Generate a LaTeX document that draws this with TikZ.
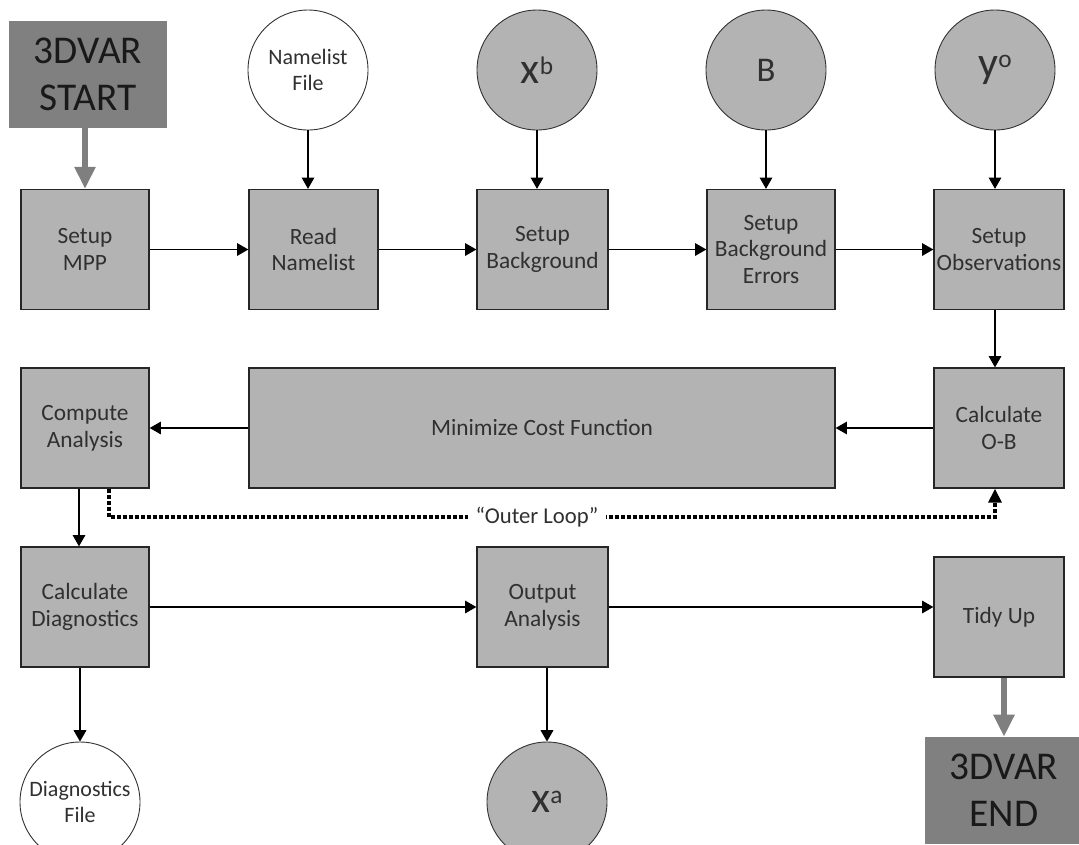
\documentclass[tikz,border=0pt]{standalone}
\usepackage{fontspec}
\setmainfont{Carlito}
\usetikzlibrary{arrows.meta,calc}
\newdimen\pxu \pxu=0.75pt
\definecolor{boxgray}{HTML}{B3B3B3}
\definecolor{darkgray}{HTML}{808080}
\definecolor{txt}{HTML}{303030}
\definecolor{arrgray}{HTML}{7F7F7F}
\newcommand{\supvar}[2]{{\fontsize{33}{36}\selectfont #1}\raisebox{7pt}{\fontsize{19}{20}\selectfont #2}}
\tikzset{
  procbox/.style={draw=black!85, line width=1.3\pxu, fill=boxgray, text=txt, align=center,
    minimum height=120\pxu, inner sep=0pt, font=\fontsize{17.5}{20}\selectfont},
  termbox/.style={fill=darkgray, text=black!90, align=center, minimum width=158\pxu,
    minimum height=107\pxu, inner sep=0pt, font=\fontsize{29.5}{35}\selectfont},
  datacirc/.style={circle, draw=black!80, line width=0.9\pxu, minimum size=120\pxu, inner sep=0pt,
    align=center, text=txt},
  filecirc/.style={datacirc, fill=white, font=\fontsize{16.5}{20}\selectfont},
  varcirc/.style={datacirc, fill=boxgray, font=\fontsize{26}{28}\selectfont},
  arr/.style={draw=black, line width=0.9pt, -{Triangle[width=9.5pt,length=8.5pt]}},
  bigarr/.style={draw=arrgray, line width=4.5pt, -{Triangle[width=15pt,length=16.5pt]}},
  outerloop/.style={draw=black, line width=3pt, dash pattern=on 3pt off 1.5pt,
    -{Triangle[width=9.75pt,length=10.5pt]}},
}
\begin{document}
\begin{tikzpicture}[x=0.75pt,y=-0.75pt]
\useasboundingbox (0,0) rectangle (1079,844);
\clip (0,0) rectangle (1079,844);
% terminals
\node[termbox] (start) at (88,74.5) {3DVAR\\START};
\node[termbox] (end) at (1004,790.5) {3DVAR\\END};
% input circles
\node[filecirc] (nl) at (308,70) {Namelist\\File};
\node[varcirc] (xb) at (537,70) {\supvar{x}{b}};
\node[varcirc] (bb) at (766,70) {B};
\node[varcirc] (yo) at (995,70) {\supvar{y}{o}};
% row 1
\node[procbox, minimum width=128\pxu] (mpp) at (85,249.5) {Setup\\MPP};
\node[procbox, minimum width=129\pxu] (read) at (313.5,249.5) {Read\\Namelist};
\node[procbox, minimum width=131\pxu] (bg) at (542.5,249.5) {Setup\\Background};
\node[procbox, minimum width=128\pxu] (bge) at (771,249.5) {Setup\\Background\\Errors};
\node[procbox, minimum width=130\pxu] (obs) at (999,249.5) {Setup\\Observations};
% row 2
\node[procbox, minimum width=128\pxu] (comp) at (85,428) {Compute\\Analysis};
\node[procbox, minimum width=586\pxu] (minim) at (542,428) {Minimize Cost Function};
\node[procbox, minimum width=130\pxu] (ob) at (999,428) {Calculate\\O-B};
% row 3
\node[procbox, minimum width=128\pxu] (diag) at (85,607) {Calculate\\Diagnostics};
\node[procbox, minimum width=131\pxu] (out) at (542.5,607) {Output\\Analysis};
\node[procbox, minimum width=130\pxu] (tidy) at (999,617) {Tidy Up};
% output circles
\node[filecirc] (df) at (80,802) {Diagnostics\\File};
\node[varcirc] (xa) at (547,802) {\supvar{x}{a}};
% connectors
\draw[bigarr] (start.south -| mpp.north) -- (mpp.north);
\draw[arr] (nl.south) -- (nl.south |- read.north);
\draw[arr] (xb.south) -- (xb.south |- bg.north);
\draw[arr] (bb.south) -- (bb.south |- bge.north);
\draw[arr] (yo.south) -- (yo.south |- obs.north);
\draw[arr] (mpp.east) -- (read.west);
\draw[arr] (read.east) -- (bg.west);
\draw[arr] (bg.east) -- (bge.west);
\draw[arr] (bge.east) -- (obs.west);
\draw[arr] (obs.south -| yo.south) -- (ob.north -| yo.south);
\draw[arr] (ob.west) -- (minim.east);
\draw[arr] (minim.west) -- (comp.east);
\draw[arr] ([xshift=-4.5pt]comp.south) -- ([xshift=-4.5pt]diag.north);
\draw[arr] (diag.east) -- (out.west);
\draw[arr] (out.east) -- (out.east -| tidy.west);
\draw[arr] (df.north |- diag.south) -- (df.north);
\draw[arr] (xa.north |- out.south) -- (xa.north);
\draw[bigarr] (tidy.south -| end.north) -- (end.north);
% outer loop
\coordinate (lp) at (537,517);
\draw[outerloop] ([xshift=18pt]comp.south) |- (lp) -| ([xshift=-3pt]ob.south);
\node[fill=white, text=txt, inner xsep=6pt, inner ysep=1.5pt, font=\fontsize{17}{20}\selectfont] (lbl) at (lp) {“Outer Loop”};
\end{tikzpicture}
\end{document}
